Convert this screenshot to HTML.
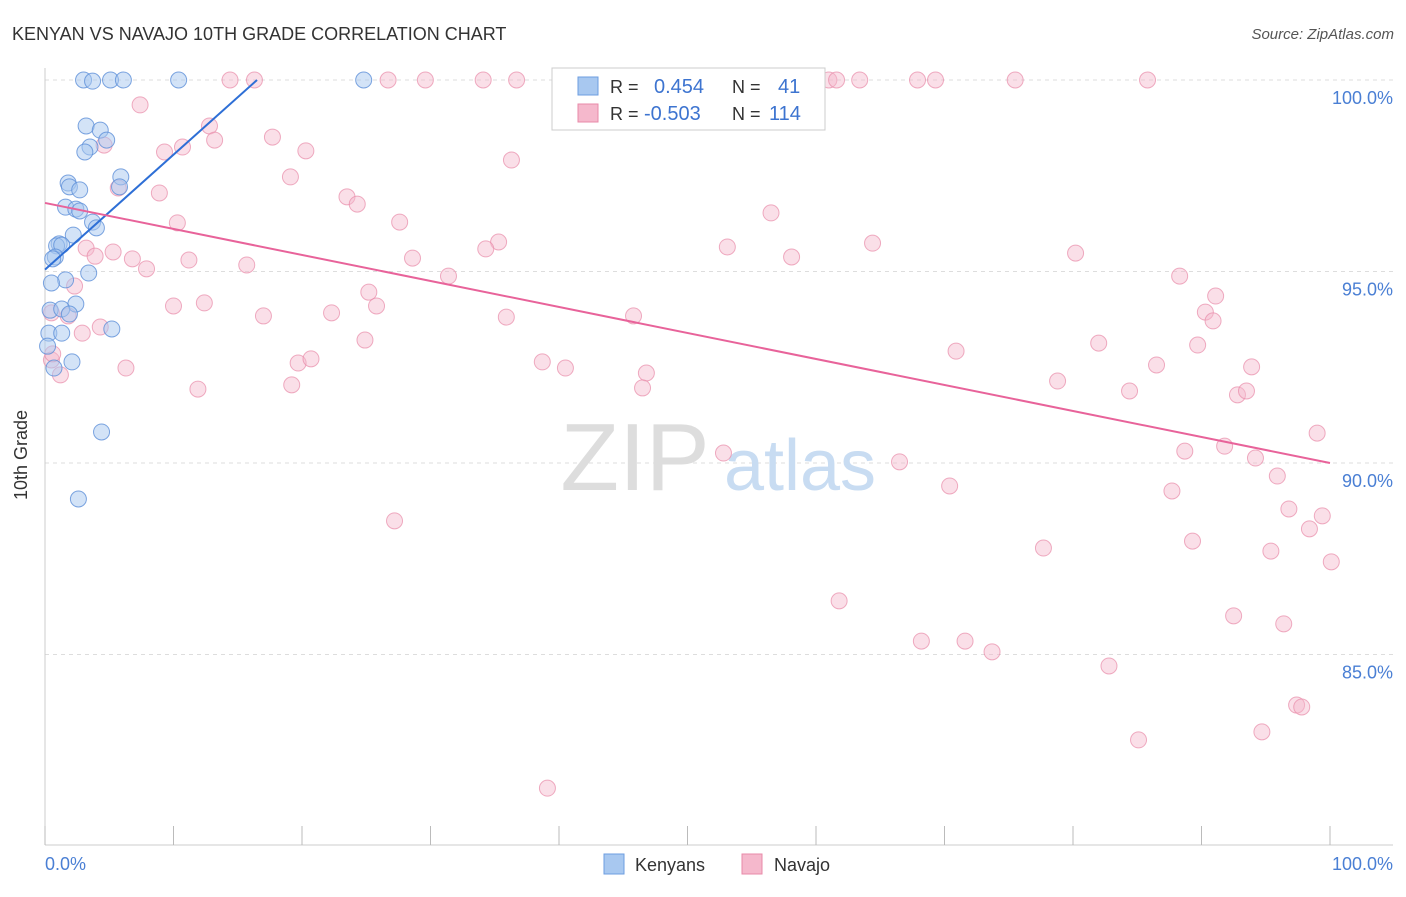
<!DOCTYPE html>
<html><head><meta charset="utf-8"><style>
body{margin:0;background:#fff;font-family:"Liberation Sans",sans-serif}
svg text{font-family:"Liberation Sans",sans-serif}
</style></head><body>
<svg width="1406" height="892" viewBox="0 0 1406 892">
<text x="12" y="40" font-size="18" fill="#333">KENYAN VS NAVAJO 10TH GRADE CORRELATION CHART</text>
<text x="1394" y="39" font-size="15" fill="#555" font-style="italic" text-anchor="end">Source: ZipAtlas.com</text>
<g id="grid"></g>
<g>
<text x="635" y="490" font-size="96" fill="#ddd" font-family="Liberation Serif" text-anchor="middle">ZIP</text>
<text x="800" y="490" font-size="72" fill="#c8dcf2" text-anchor="middle">atlas</text>
</g>
<line x1="45" y1="68" x2="45" y2="845" stroke="#ccc"/>
<line x1="45" y1="845" x2="1393" y2="845" stroke="#ccc"/>
<g id="xticks"></g>
<g id="yticks"></g>
<text x="27" y="455" font-size="18" fill="#333" text-anchor="middle" transform="rotate(-90 27 455)">10th Grade</text>
<text x="45" y="870" font-size="18" fill="#4a7fd4">0.0%</text>
<text x="1393" y="870" font-size="18" fill="#4a7fd4" text-anchor="end">100.0%</text>
<g id="pink"></g>
<g id="blue"></g>
<g id="lines"></g>
<g>
<rect x="552" y="68" width="273" height="62" fill="#fff" stroke="#ccc"/>
<rect x="578" y="77" width="20" height="18" fill="#a8c8f0" stroke="#6d9ee0"/>
<rect x="578" y="104" width="20" height="18" fill="#f5b8cc" stroke="#e88aa8"/>
<text x="610" y="93" font-size="18" fill="#333">R = </text><text x="654" y="93" font-size="20" fill="#3d74d0">0.454</text>
<text x="732" y="93" font-size="18" fill="#333">N = </text><text x="778" y="93" font-size="20" fill="#3d74d0">41</text>
<text x="610" y="120" font-size="18" fill="#333">R = </text><text x="644" y="120" font-size="20" fill="#3d74d0">-0.503</text>
<text x="732" y="120" font-size="18" fill="#333">N = </text><text x="769" y="120" font-size="20" fill="#3d74d0">114</text>
</g>
<g>
<rect x="604" y="854" width="20" height="20" fill="#a8c8f0" stroke="#6d9ee0"/>
<text x="635" y="871" font-size="18" fill="#333">Kenyans</text>
<rect x="742" y="854" width="20" height="20" fill="#f5b8cc" stroke="#e88aa8"/>
<text x="774" y="871" font-size="18" fill="#333">Navajo</text>
</g>
</svg>
<script>
const yTicks=[100,95,90,85];
const yTickLabels=["100.0%","95.0%","90.0%","85.0%"];
const xTicks=[0,10,20,30,40,50,60,70,80,90,100];
const blueX=[3.0,3.7,5.1,6.1,10.4,24.8,3.2,4.3,4.8,3.5,3.1,5.9,1.8,1.9,2.7,5.8,1.6,2.4,2.7,3.7,4.0,2.2,1.1,0.9,1.3,0.8,0.6,3.4,1.6,0.5,2.4,0.4,1.3,1.9,0.3,1.3,5.2,0.2,2.1,0.7,4.4,2.6];
const blueY=[100,99.97,100,100,100,100,98.80,98.69,98.43,98.25,98.12,97.47,97.31,97.21,97.13,97.21,96.68,96.63,96.58,96.29,96.14,95.95,95.72,95.67,95.69,95.38,95.33,94.96,94.78,94.70,94.15,93.99,94.02,93.89,93.39,93.39,93.50,93.05,92.64,92.48,90.81,89.06];
const pinkX=[16.3,14.4,26.7,29.6,34.1,36.7,43.8,52.5,61.0,61.6,63.4,67.9,69.3,75.5,85.8,7.4,12.8,13.2,17.7,10.7,9.3,20.3,4.6,36.3,19.1,5.7,8.9,23.5,24.3,56.5,10.3,27.6,35.3,34.3,53.1,64.4,80.2,3.2,3.9,5.3,6.8,7.9,11.2,15.7,28.6,31.4,58.1,88.3,2.3,25.2,25.8,10.0,12.4,17.0,22.3,35.9,45.8,91.1,90.3,90.9,0.5,1.8,4.3,2.9,24.9,19.7,20.7,6.3,1.2,0.5,38.7,40.5,46.8,46.5,11.9,19.2,70.9,82.0,89.7,86.5,93.9,78.8,84.4,92.8,93.5,52.8,66.5,88.7,91.8,94.2,99.0,95.9,70.4,87.7,96.8,99.4,27.2,98.4,89.3,77.7,95.4,100.1,61.8,92.5,96.4,68.2,71.6,73.7,82.8,97.4,97.8,85.1,94.7,39.1,0.6];
const pinkY=[100,100,100,100,100,100,100,100,100,100,100,100,100,100,100,99.35,98.80,98.43,98.51,98.25,98.12,98.15,98.30,97.91,97.47,97.18,97.05,96.95,96.76,96.53,96.27,96.29,95.77,95.59,95.64,95.74,95.48,95.61,95.40,95.51,95.33,95.07,95.30,95.17,95.35,94.88,95.38,94.88,94.62,94.46,94.10,94.10,94.18,93.84,93.92,93.81,93.84,94.36,93.94,93.71,93.92,93.84,93.55,93.39,93.21,92.61,92.72,92.48,92.30,92.69,92.64,92.48,92.35,91.96,91.93,92.04,92.92,93.13,93.08,92.56,92.51,92.14,91.88,91.78,91.88,90.26,90.03,90.31,90.44,90.13,90.78,89.66,89.40,89.27,88.80,88.62,88.49,88.28,87.96,87.78,87.70,87.42,86.40,86.01,85.80,85.35,85.35,85.07,84.70,83.68,83.63,82.77,82.98,81.51,92.85];
const blueTrendX=[0,16.5];
const blueTrendY=[95.05,100];
const pinkTrendX=[0,100];
const pinkTrendY=[96.79,90.0];
const NS='http://www.w3.org/2000/svg';
const sx=v=>45+v*12.85;
const sy=v=>80+(100-v)*38.3;
function mk(tag,attrs,parent){const e=document.createElementNS(NS,tag);for(const k in attrs)e.setAttribute(k,attrs[k]);document.getElementById(parent).appendChild(e);return e;}
yTicks.forEach((t,i)=>{
 const l=mk('line',{x1:45,x2:1393,y1:sy(t),y2:sy(t),stroke:'#ddd','stroke-dasharray':'4,4'},'grid');
 
 
 const tx=mk('text',{x:1393,y:sy(t)+24,'font-size':18,fill:'#4a7fd4','text-anchor':'end'},'yticks');
 tx.textContent=yTickLabels[i];
 
 
});
xTicks.forEach(t=>{
 const l=mk('line',{x1:sx(t),x2:sx(t),y1:826,y2:845,stroke:'#bbb'},'xticks');
 
 
});
pinkX.forEach((x,i)=>{
 const c=mk('circle',{cx:sx(x),cy:sy(pinkY[i]),r:8,fill:'#f5b8cc','fill-opacity':0.45,stroke:'#e88aa8','stroke-opacity':0.7},'pink');
 
 
});
blueX.forEach((x,i)=>{
 const c=mk('circle',{cx:sx(x),cy:sy(blueY[i]),r:8,fill:'#a8c8f0','fill-opacity':0.5,stroke:'#5d8fd8','stroke-opacity':0.8},'blue');
 
 
});
const bl=mk('line',{x1:sx(blueTrendX[0]),y1:sy(blueTrendY[0]),x2:sx(blueTrendX[1]),y2:sy(blueTrendY[1]),stroke:'#2e6fd6','stroke-width':2},'lines');


const pl=mk('line',{x1:sx(pinkTrendX[0]),y1:sy(pinkTrendY[0]),x2:sx(pinkTrendX[1]),y2:sy(pinkTrendY[1]),stroke:'#e8639a','stroke-width':2},'lines');


</script>
</body></html>
